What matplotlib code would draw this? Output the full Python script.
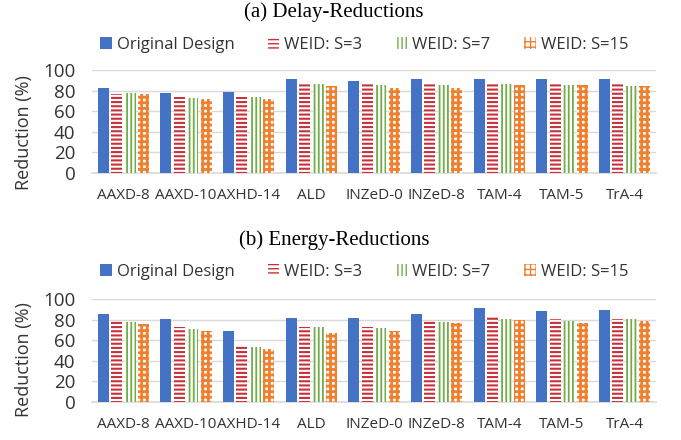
import numpy as np
import matplotlib
matplotlib.use("Agg")
import matplotlib.pyplot as plt
from matplotlib.patches import Patch

categories = ["AAXD-8", "AAXD-10", "AXHD-14", "ALD", "INZeD-0",
              "INZeD-8", "TAM-4", "TAM-5", "TrA-4"]
series_names = ["Original Design", "WEID: S=3", "WEID: S=7", "WEID: S=15"]

# (a) delay reductions (%)
delay_orig = [82.5, 78, 78.5, 91, 89, 91, 91, 91, 91]
delay_s3 = [77, 74, 74, 86.5, 86, 86, 86, 86, 86]
delay_s7 = [77.5, 73, 73.5, 86.5, 85, 85.5, 86.5, 85.5, 84.5]
delay_s15 = [77, 72, 71.5, 84.5, 83, 83, 85, 85, 84]

# (b) energy reductions (%)
energy_orig = [85, 81, 68.5, 82, 81.5, 85.5, 91.5, 88.5, 89.5]
energy_s3 = [79, 73, 55.5, 73, 72.5, 79, 83.5, 80.5, 80.5]
energy_s7 = [78, 71, 53, 72.5, 72, 78, 80.5, 79, 80.5]
energy_s15 = [75.5, 69, 51, 67, 68.5, 76.5, 79.5, 76.5, 78.5]

colors = ["#4472C4", "#C8313B", "#70AD47", "#F07F2E"]
hatches = [None, "----", "||||", "+++"]
hatch_lw = [0, 1.5, 1.3, 2.0]

plt.rcParams["font.family"] = ["Open Sans", "DejaVu Sans"]
text_color = "#333333"

W, H = 681, 440
fig = plt.figure(figsize=(W / 100, H / 100), dpi=100)


def draw_panel(ax, data):
    x = np.arange(len(categories))
    width = 0.175
    step = 0.215
    for i, vals in enumerate(data):
        pos = x + (i - 1.5) * step
        if hatches[i] is None:
            ax.bar(pos, vals, width, color=colors[i], linewidth=0, zorder=3)
        else:
            with plt.rc_context({"hatch.linewidth": hatch_lw[i]}):
                ax.bar(pos, vals, width, facecolor="white", edgecolor=colors[i],
                       hatch=hatches[i], linewidth=0, zorder=3)
    ax.set_xlim(-0.5, len(categories) - 0.5)
    ax.set_ylim(0, 100)
    ax.set_yticks([0, 20, 40, 60, 80, 100])
    ax.set_xticks(x)
    ax.set_xticklabels(categories, fontsize=11)
    ax.tick_params(axis="y", labelsize=13.5, length=0, pad=12)
    ax.tick_params(axis="x", length=0, pad=11)
    ax.tick_params(colors=text_color)
    ax.grid(axis="y", color="#D9D9D9", linewidth=1.0, zorder=0)
    for s in ["top", "right", "left"]:
        ax.spines[s].set_visible(False)
    ax.spines["bottom"].set_color("#D9D9D9")
    ax.spines["bottom"].set_linewidth(1.2)


def legend_handles():
    hs = []
    for i in range(4):
        if hatches[i] is None:
            hs.append(Patch(facecolor=colors[i], linewidth=0))
        else:
            with plt.rc_context({"hatch.linewidth": hatch_lw[i]}):
                hs.append(Patch(facecolor="white", edgecolor=colors[i],
                                hatch=hatches[i], linewidth=0))
    return hs


ax1 = fig.add_axes([92 / W, 1 - 173 / H, 564 / W, 103 / H])
draw_panel(ax1, [delay_orig, delay_s3, delay_s7, delay_s15])
ax2 = fig.add_axes([92 / W, 1 - 402 / H, 564 / W, 103 / H])
draw_panel(ax2, [energy_orig, energy_s3, energy_s7, energy_s15])

for ycen in [133, 360]:
    fig.text(24 / W, 1 - ycen / H, "Reduction (%)", rotation=90, ha="center",
             va="center", fontsize=13, color=text_color)

fig.text(334 / W, 1 - 12 / H, "(a) Delay-Reductions", ha="center", va="center",
         fontsize=15, family=["Liberation Serif"])
fig.text(334 / W, 1 - 240 / H, "(b) Energy-Reductions", ha="center", va="center",
         fontsize=15, family=["Liberation Serif"])

for ycen in [45, 272]:
    fig.legend(legend_handles(), series_names, loc="center",
               bbox_to_anchor=(364 / W, 1 - ycen / H), ncol=4, frameon=False,
               fontsize=12, handlelength=0.7, handleheight=0.7,
               handletextpad=0.3, columnspacing=2.0, labelcolor=text_color)

fig.savefig("out.png", dpi=100)
